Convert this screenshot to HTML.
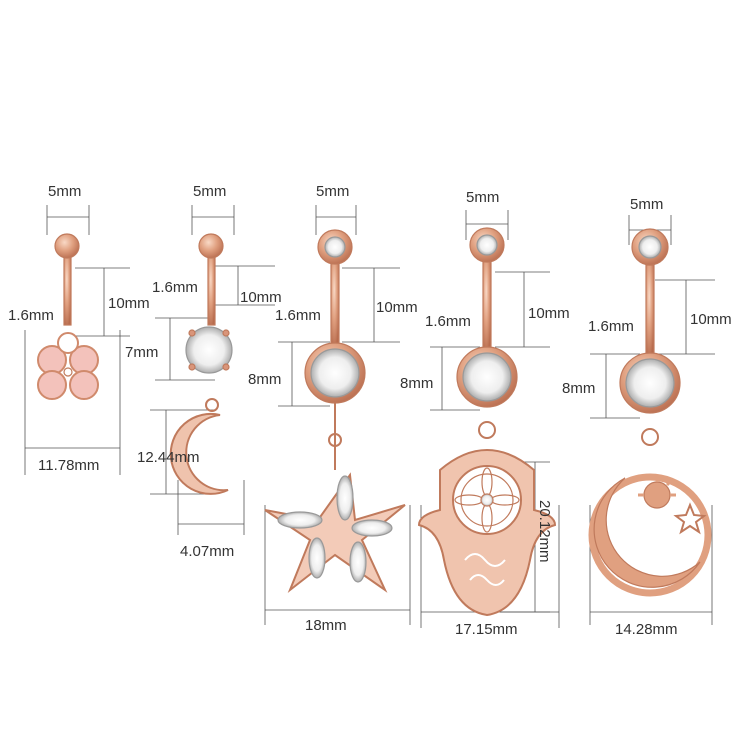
<!DOCTYPE html>
<html><head><meta charset="utf-8"><style>
html,body{margin:0;padding:0;background:#fff;}
svg text{font-family:"Liberation Sans",sans-serif;font-size:15px;fill:#333;}
</style></head><body>
<svg width="733" height="737" viewBox="0 0 733 737" xmlns="http://www.w3.org/2000/svg">
<defs>
<radialGradient id="rg" cx="40%" cy="35%" r="70%"><stop offset="0" stop-color="#f9d9c6"/><stop offset="0.5" stop-color="#e0a080"/><stop offset="1" stop-color="#b86c4e"/></radialGradient>
<radialGradient id="gem" cx="50%" cy="50%" r="60%"><stop offset="0" stop-color="#fff"/><stop offset="0.55" stop-color="#eee"/><stop offset="0.85" stop-color="#aaa"/><stop offset="1" stop-color="#666"/></radialGradient>
</defs>
<g stroke="#555" stroke-width="0.8" fill="none">
<line x1="47" y1="205" x2="47" y2="235"/><line x1="89" y1="205" x2="89" y2="235"/><line x1="47" y1="217" x2="89" y2="217"/>
<line x1="75" y1="268" x2="130" y2="268"/><line x1="75" y1="336" x2="130" y2="336"/><line x1="104" y1="268" x2="104" y2="336"/>
<line x1="25" y1="330" x2="25" y2="475"/><line x1="120" y1="330" x2="120" y2="475"/><line x1="25" y1="448" x2="120" y2="448"/>
<line x1="192" y1="205" x2="192" y2="235"/><line x1="234" y1="205" x2="234" y2="235"/><line x1="192" y1="217" x2="234" y2="217"/>
<line x1="215" y1="266" x2="275" y2="266"/><line x1="215" y1="305" x2="275" y2="305"/><line x1="238" y1="266" x2="238" y2="305"/>
<line x1="155" y1="318" x2="215" y2="318"/><line x1="155" y1="380" x2="215" y2="380"/><line x1="170" y1="318" x2="170" y2="380"/>
<line x1="150" y1="410" x2="215" y2="410"/><line x1="150" y1="494" x2="215" y2="494"/><line x1="166" y1="410" x2="166" y2="494"/>
<line x1="178" y1="480" x2="178" y2="535"/><line x1="244" y1="480" x2="244" y2="535"/><line x1="178" y1="524" x2="244" y2="524"/>
<line x1="316" y1="205" x2="316" y2="235"/><line x1="356" y1="205" x2="356" y2="235"/><line x1="316" y1="217" x2="356" y2="217"/>
<line x1="342" y1="268" x2="400" y2="268"/><line x1="342" y1="342" x2="400" y2="342"/><line x1="374" y1="268" x2="374" y2="342"/>
<line x1="278" y1="342" x2="330" y2="342"/><line x1="278" y1="406" x2="330" y2="406"/><line x1="292" y1="342" x2="292" y2="406"/>
<line x1="265" y1="505" x2="265" y2="625"/><line x1="410" y1="505" x2="410" y2="625"/><line x1="265" y1="610" x2="410" y2="610"/>
<line x1="466" y1="210" x2="466" y2="240"/><line x1="508" y1="210" x2="508" y2="240"/><line x1="466" y1="224" x2="508" y2="224"/>
<line x1="495" y1="272" x2="550" y2="272"/><line x1="495" y1="347" x2="550" y2="347"/><line x1="524" y1="272" x2="524" y2="347"/>
<line x1="430" y1="347" x2="480" y2="347"/><line x1="430" y1="410" x2="480" y2="410"/><line x1="442" y1="347" x2="442" y2="410"/>
<line x1="500" y1="462" x2="550" y2="462"/><line x1="500" y1="612" x2="550" y2="612"/><line x1="535" y1="462" x2="535" y2="612"/>
<line x1="421" y1="505" x2="421" y2="628"/><line x1="559" y1="505" x2="559" y2="628"/><line x1="421" y1="612" x2="559" y2="612"/>
<line x1="629" y1="215" x2="629" y2="245"/><line x1="671" y1="215" x2="671" y2="245"/><line x1="629" y1="230" x2="671" y2="230"/>
<line x1="655" y1="280" x2="715" y2="280"/><line x1="655" y1="354" x2="715" y2="354"/><line x1="686" y1="280" x2="686" y2="354"/>
<line x1="590" y1="354" x2="640" y2="354"/><line x1="590" y1="418" x2="640" y2="418"/><line x1="606" y1="354" x2="606" y2="418"/>
<line x1="590" y1="505" x2="590" y2="625"/><line x1="712" y1="505" x2="712" y2="625"/><line x1="590" y1="612" x2="712" y2="612"/>
</g>
<g stroke="#c07a5c" stroke-width="1.2">
<rect x="64" y="255" width="7" height="70" fill="url(#rg)"/>
<circle cx="67" cy="246" r="12" fill="url(#rg)"/>
<g fill="#f3c2bb" stroke="#d08a6c" stroke-width="2"><circle cx="52" cy="360" r="14"/><circle cx="84" cy="360" r="14"/><circle cx="52" cy="385" r="14"/><circle cx="84" cy="385" r="14"/><circle cx="68" cy="343" r="10" fill="#fff"/></g>
<circle cx="68" cy="372" r="4" fill="#fff"/>
<rect x="208" y="255" width="7" height="70" fill="url(#rg)"/>
<circle cx="211" cy="246" r="12" fill="url(#rg)"/>
<circle cx="209" cy="350" r="23" fill="url(#gem)" stroke="#999"/>
<g fill="#d9957a"><circle cx="192" cy="333" r="3"/><circle cx="226" cy="333" r="3"/><circle cx="192" cy="367" r="3"/><circle cx="226" cy="367" r="3"/></g>
<circle cx="212" cy="405" r="6" fill="none" stroke-width="2"/>
<path d="M220 415 A40 40 0 1 0 228 490 A32 32 0 1 1 220 415Z" fill="#efc3ad" stroke-width="2"/>
<rect x="331" y="260" width="8" height="85" fill="url(#rg)"/>
<circle cx="335" cy="247" r="17" fill="url(#rg)"/><circle cx="335" cy="247" r="10" fill="url(#gem)" stroke="#999"/>
<circle cx="335" cy="373" r="30" fill="url(#rg)"/><circle cx="335" cy="373" r="24" fill="url(#gem)" stroke="#999"/>
<line x1="335" y1="403" x2="335" y2="470" fill="none" stroke-width="2"/><circle cx="335" cy="440" r="6" fill="none" stroke-width="2"/>
<path d="M350 475 L355 520 L405 505 L362 540 L385 590 L335 555 L290 590 L310 540 L265 510 L318 520Z" fill="#f3cbb8" stroke-width="2"/>
<g fill="url(#gem)" stroke="#999"><ellipse cx="345" cy="498" rx="8" ry="22"/><ellipse cx="300" cy="520" rx="22" ry="8"/><ellipse cx="372" cy="528" rx="20" ry="8"/><ellipse cx="317" cy="558" rx="8" ry="20"/><ellipse cx="358" cy="562" rx="8" ry="20"/></g>
<rect x="483" y="260" width="8" height="90" fill="url(#rg)"/>
<circle cx="487" cy="245" r="17" fill="url(#rg)"/><circle cx="487" cy="245" r="10" fill="url(#gem)" stroke="#999"/>
<circle cx="487" cy="377" r="30" fill="url(#rg)"/><circle cx="487" cy="377" r="24" fill="url(#gem)" stroke="#999"/>
<circle cx="487" cy="430" r="8" fill="none" stroke-width="2"/>
<path d="M440 470 Q487 430 534 470 L534 510 Q555 515 555 525 Q535 530 530 560 Q520 610 487 615 Q454 610 444 560 Q439 530 419 525 Q419 515 440 510Z" fill="#f0c4ae" stroke-width="2"/>
<circle cx="487" cy="500" r="34" fill="#fff" stroke-width="2"/><circle cx="487" cy="500" r="26" fill="none"/>
<g fill="none"><ellipse cx="487" cy="482" rx="5" ry="14"/><ellipse cx="487" cy="518" rx="5" ry="14"/><ellipse cx="469" cy="500" rx="14" ry="5"/><ellipse cx="505" cy="500" rx="14" ry="5"/></g>
<circle cx="487" cy="500" r="6" fill="url(#gem)"/>
<path d="M465 560 q10 -12 20 0 q10 12 20 0 M470 580 q8 -10 17 0 q9 10 17 0" fill="none" stroke="#fff" stroke-width="2"/>
<rect x="646" y="265" width="8" height="90" fill="url(#rg)"/>
<circle cx="650" cy="247" r="18" fill="url(#rg)"/><circle cx="650" cy="247" r="11" fill="url(#gem)" stroke="#999"/>
<circle cx="650" cy="383" r="30" fill="url(#rg)"/><circle cx="650" cy="383" r="24" fill="url(#gem)" stroke="#999"/>
<circle cx="650" cy="437" r="8" fill="none" stroke-width="2"/>
<circle cx="650" cy="535" r="58" fill="none" stroke-width="7" stroke="#e0a080"/>
<path d="M625 478 A58 58 0 1 0 700 562 A50 50 0 1 1 625 478Z" fill="#e0a080"/>
<circle cx="657" cy="495" r="13" fill="#e0a080"/>
<g stroke="#e0a080" stroke-width="3"><line x1="657" y1="476" x2="657" y2="482"/><line x1="676" y1="495" x2="670" y2="495"/><line x1="638" y1="495" x2="644" y2="495"/><line x1="671" y1="481" x2="667" y2="485"/></g>
<path d="M690 505 L694 515 L704 516 L696 522 L699 532 L690 526 L681 532 L684 522 L676 516 L686 515Z" fill="#fff" stroke-width="2"/>
</g>
<text x="48" y="196">5mm</text><text x="193" y="196">5mm</text><text x="316" y="196">5mm</text><text x="466" y="202">5mm</text><text x="630" y="209">5mm</text>
<text x="8" y="320">1.6mm</text><text x="108" y="308">10mm</text><text x="38" y="470">11.78mm</text>
<text x="152" y="292">1.6mm</text><text x="240" y="302">10mm</text><text x="125" y="357">7mm</text><text x="137" y="462">12.44mm</text><text x="180" y="556">4.07mm</text>
<text x="275" y="320">1.6mm</text><text x="376" y="312">10mm</text><text x="248" y="384">8mm</text><text x="305" y="630">18mm</text>
<text x="425" y="326">1.6mm</text><text x="528" y="318">10mm</text><text x="400" y="388">8mm</text><text x="455" y="634">17.15mm</text>
<text transform="translate(540,500) rotate(90)">20.12mm</text>
<text x="588" y="331">1.6mm</text><text x="690" y="324">10mm</text><text x="562" y="393">8mm</text><text x="615" y="634">14.28mm</text>
</svg>
</body></html>
